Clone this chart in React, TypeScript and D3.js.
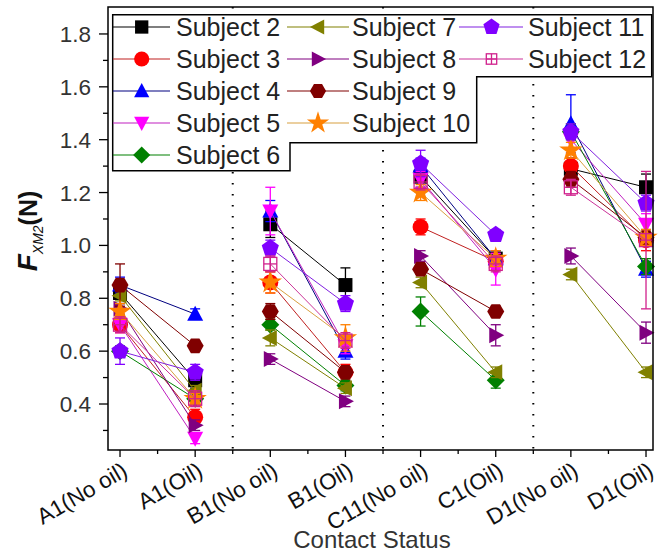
import React from "react";
import * as d3 from "d3";

const categories = ["A1(No oil)", "A1(Oil)", "B1(No oil)", "B1(Oil)", "C11(No oil)", "C1(Oil)", "D1(No oil)", "D1(Oil)"];
const subjectNames = ["Subject 2", "Subject 3", "Subject 4", "Subject 5", "Subject 6", "Subject 7", "Subject 8", "Subject 9", "Subject 10", "Subject 11", "Subject 12"];

const s2 = [0.82, 0.49, 1.08, 0.85, 1.26, 0.95, 1.29, 1.22];
const s3 = [0.70, 0.35, 0.86, 0.52, 1.07, 0.94, 1.30, 1.02];
const s4 = [0.85, 0.74, 1.13, 0.60, 1.30, 0.95, 1.46, 0.91];
const s5 = [0.70, 0.27, 1.13, 0.62, 1.25, 0.91, 1.40, 1.08];
const s6 = [0.60, 0.42, 0.70, 0.47, 0.75, 0.49, 1.43, 0.92];
const s7 = [0.81, 0.45, 0.65, 0.46, 0.86, 0.52, 0.89, 0.52];
const s8 = [0.76, 0.32, 0.57, 0.41, 0.96, 0.66, 0.96, 0.67];
const s9 = [0.85, 0.62, 0.75, 0.52, 0.91, 0.75, 1.25, 1.03];
const s10 = [0.75, 0.42, 0.86, 0.65, 1.20, 0.95, 1.36, 1.03];
const s11 = [0.60, 0.52, 0.99, 0.78, 1.31, 1.04, 1.43, 1.16];
const s12 = [0.70, 0.42, 0.93, 0.64, 1.24, 0.93, 1.22, 1.02];

const e2 = [0.04, 0.03, 0.05, 0.065, 0.04, 0.03, 0.04, 0.05];
const e3 = [0.03, 0.03, 0.04, 0.03, 0.03, 0.03, 0.03, 0.04];
const e4 = [0.03, 0.02, 0.04, 0.03, 0.03, 0.03, 0.11, 0.03];
const e5 = [0.03, 0.02, 0.09, 0.03, 0.03, 0.06, 0.03, 0.04];
const e6 = [0.02, 0.02, 0.02, 0.02, 0.055, 0.03, 0.03, 0.03];
const e7 = [0.02, 0.02, 0.03, 0.02, 0.02, 0.02, 0.02, 0.02];
const e8 = [0.02, 0.02, 0.02, 0.02, 0.02, 0.04, 0.03, 0.04];
const e9 = [0.08, 0.02, 0.03, 0.02, 0.02, 0.02, 0.03, 0.03];
const e10 = [0.03, 0.02, 0.04, 0.05, 0.03, 0.03, 0.03, 0.03];
const e11 = [0.05, 0.03, 0.03, 0.03, 0.05, 0.02, 0.03, 0.03];
const e12 = [0.03, 0.03, 0.03, 0.03, 0.03, 0.03, 0.03, 0.26];

const yTicks = [0.4, 0.6, 0.8, 1.0, 1.2, 1.4, 1.6, 1.8];
const yMinor = [0.3, 0.5, 0.7, 0.9, 1.1, 1.3, 1.5, 1.7];

const values = [s2, s3, s4, s5, s6, s7, s8, s9, s10, s11, s12];
const errors = [e2, e3, e4, e5, e6, e7, e8, e9, e10, e11, e12];
const shapes = ["square", "circle", "triup", "tridown", "diamond", "trileft", "triright", "hexagon", "star", "pentagon", "sqplus"];
const fills = ["#000000", "#ff0000", "#0000ff", "#ff00ff", "#008000", "#808000", "#800080", "#800000", "#ff8000", "#8000ff", "#d0208c"];
const lineColors = ["#000000", "#c02020", "#000080", "#c020c0", "#008000", "#808000", "#800080", "#800000", "#d8a040", "#8020e0", "#cc3399"];

const FONT = "'Liberation Sans', Arial, sans-serif";

function poly(cx: number, cy: number, pts: number[][]) {
  return pts.map((p) => `${cx + p[0]},${cy + p[1]}`).join(" ");
}

function regular(n: number, r: number, start: number) {
  const pts: number[][] = [];
  for (let i = 0; i < n; i++) {
    const a = start + (i * 2 * Math.PI) / n;
    pts.push([r * Math.cos(a), r * Math.sin(a)]);
  }
  return pts;
}

function Marker({ shape, cx, cy, fill, s = 1 }: { shape: string; cx: number; cy: number; fill: string; s?: number }) {
  switch (shape) {
    case "square":
      return <rect x={cx - 7 * s} y={cy - 7 * s} width={14 * s} height={14 * s} fill={fill} />;
    case "circle":
      return <circle cx={cx} cy={cy} r={8 * s} fill={fill} />;
    case "triup":
      return <polygon points={poly(cx, cy, [[0, -8.5 * s], [8 * s, 6.5 * s], [-8 * s, 6.5 * s]])} fill={fill} />;
    case "tridown":
      return <polygon points={poly(cx, cy, [[0, 8.5 * s], [8 * s, -6.5 * s], [-8 * s, -6.5 * s]])} fill={fill} />;
    case "trileft":
      return <polygon points={poly(cx, cy, [[-8.5 * s, 0], [6.5 * s, -8 * s], [6.5 * s, 8 * s]])} fill={fill} />;
    case "triright":
      return <polygon points={poly(cx, cy, [[8.5 * s, 0], [-6.5 * s, -8 * s], [-6.5 * s, 8 * s]])} fill={fill} />;
    case "diamond":
      return <polygon points={poly(cx, cy, [[0, -9 * s], [9 * s, 0], [0, 9 * s], [-9 * s, 0]])} fill={fill} />;
    case "hexagon":
      return <polygon points={poly(cx, cy, regular(6, 8.5 * s, 0))} fill={fill} />;
    case "pentagon":
      return <polygon points={poly(cx, cy, regular(5, 9 * s, -Math.PI / 2))} fill={fill} />;
    case "star":
      return <path d={d3.symbol(d3.symbolStar, 170 * s * s)() || ""} transform={`translate(${cx},${cy})`} fill={fill} />;
    case "sqplus": {
      const h = 6.5 * s;
      return (
        <g stroke={fill} strokeWidth={1.3} fill="none">
          <rect x={cx - h} y={cy - h} width={2 * h} height={2 * h} />
          <line x1={cx - h} x2={cx + h} y1={cy} y2={cy} />
          <line x1={cx} x2={cx} y1={cy - h} y2={cy + h} />
        </g>
      );
    }
    default:
      return null;
  }
}

export default function App() {
  const W = 661, H = 556;
  const left = 108, right = 653, top = 7, bottom = 450;
  const x = d3.scaleLinear().domain([0.84, 8.093]).range([left, right]);
  const y = d3.scaleLinear().domain([0.226, 1.902]).range([bottom, top]);
  const pairs = [[0, 1], [2, 3], [4, 5], [6, 7]];
  const xMajor = categories.map((_, i) => i + 1);
  const xMinor = [1.5, 2.5, 3.5, 4.5, 5.5, 6.5, 7.5];
  const dividers = [2.5, 4.5, 6.5];

  const legendCols = [
    { idx: [0, 1, 2, 3, 4], x1: 113, x2: 170, mx: 141.7, tx: 176 },
    { idx: [5, 6, 7, 8], x1: 287, x2: 349, mx: 318, tx: 352 },
    { idx: [9, 10], x1: 459, x2: 523, mx: 491.5, tx: 528 },
  ];
  const rowY = [27, 59, 91, 123, 155];

  return (
    <svg width={W} height={H} style={{ position: "absolute", left: 0, top: 0, background: "#fff" }} fontFamily={FONT}>
      <rect width={W} height={H} fill="#fff" />
      {dividers.map((d) => (
        <line key={d} x1={x(d)} x2={x(d)} y1={top} y2={bottom} stroke="#000" strokeWidth={2} strokeDasharray="1.5 9.5" />
      ))}
      {values.map((vals, si) => (
        <g key={si}>
          {pairs.map(([a, b]) => (
            <line key={a} x1={x(a + 1)} y1={y(vals[a])} x2={x(b + 1)} y2={y(vals[b])} stroke={lineColors[si]} strokeWidth={1} />
          ))}
          {vals.map((v, i) => {
            const e = errors[si][i];
            const cx = x(i + 1);
            return (
              <g key={i} stroke={fills[si]} strokeWidth={1.3}>
                <line x1={cx} x2={cx} y1={y(v - e)} y2={y(v + e)} />
                <line x1={cx - 5} x2={cx + 5} y1={y(v - e)} y2={y(v - e)} />
                <line x1={cx - 5} x2={cx + 5} y1={y(v + e)} y2={y(v + e)} />
              </g>
            );
          })}
          {vals.map((v, i) => (
            <Marker key={i} shape={shapes[si]} cx={x(i + 1)} cy={y(v)} fill={fills[si]} />
          ))}
        </g>
      ))}
      <path d="M112.7,14.7 H651.7 V76.7 H476.7 V142.7 H290 V170.7 H112.7 Z" fill="#fff" stroke="#000" strokeWidth={1.5} />
      {legendCols.map((col, ci) =>
        col.idx.map((si, r) => (
          <g key={`${ci}-${r}`}>
            <line x1={col.x1} x2={col.x2} y1={rowY[r]} y2={rowY[r]} stroke={lineColors[si]} strokeWidth={1.2} />
            <Marker shape={shapes[si]} cx={col.mx} cy={rowY[r]} fill={fills[si]} s={si === 10 ? 0.8 : 0.95} />
            <text x={col.tx} y={rowY[r] + 9} fontSize={25} fill="#222">{subjectNames[si]}</text>
          </g>
        ))
      )}
      <rect x={left} y={top} width={right - left} height={bottom - top} fill="none" stroke="#000" strokeWidth={1.5} />
      {yTicks.map((t) => (
        <g key={t}>
          <line x1={left - 9} x2={left} y1={y(t)} y2={y(t)} stroke="#000" strokeWidth={1.3} />
          <text x={left - 17} y={y(t) + 8} fontSize={22.5} textAnchor="end" fill="#333">{t.toFixed(1)}</text>
        </g>
      ))}
      {yMinor.map((t) => (
        <line key={t} x1={left - 5} x2={left} y1={y(t)} y2={y(t)} stroke="#000" strokeWidth={1.3} />
      ))}
      {xMajor.map((t, i) => (
        <g key={t}>
          <line x1={x(t)} x2={x(t)} y1={bottom} y2={bottom + 7} stroke="#000" strokeWidth={1.3} />
          <text transform={`translate(${x(t) + 9},${bottom + 25}) rotate(-30)`} fontSize={22.5} textAnchor="end" fill="#111">{categories[i]}</text>
        </g>
      ))}
      {xMinor.map((t) => (
        <line key={t} x1={x(t)} x2={x(t)} y1={bottom} y2={bottom + 4} stroke="#000" strokeWidth={1.3} />
      ))}
      <text x={372} y={548} fontSize={24} textAnchor="middle" fill="#333">Contact Status</text>
      <text transform="translate(37,231) rotate(-90)" textAnchor="middle" fill="#111">
        <tspan fontSize={28} fontStyle="italic" fontWeight="bold">F</tspan>
        <tspan fontSize={14} fontStyle="italic" dy={6}>XM2</tspan>
        <tspan fontSize={25} fontWeight="bold" dy={-6}>(N)</tspan>
      </text>
    </svg>
  );
}
